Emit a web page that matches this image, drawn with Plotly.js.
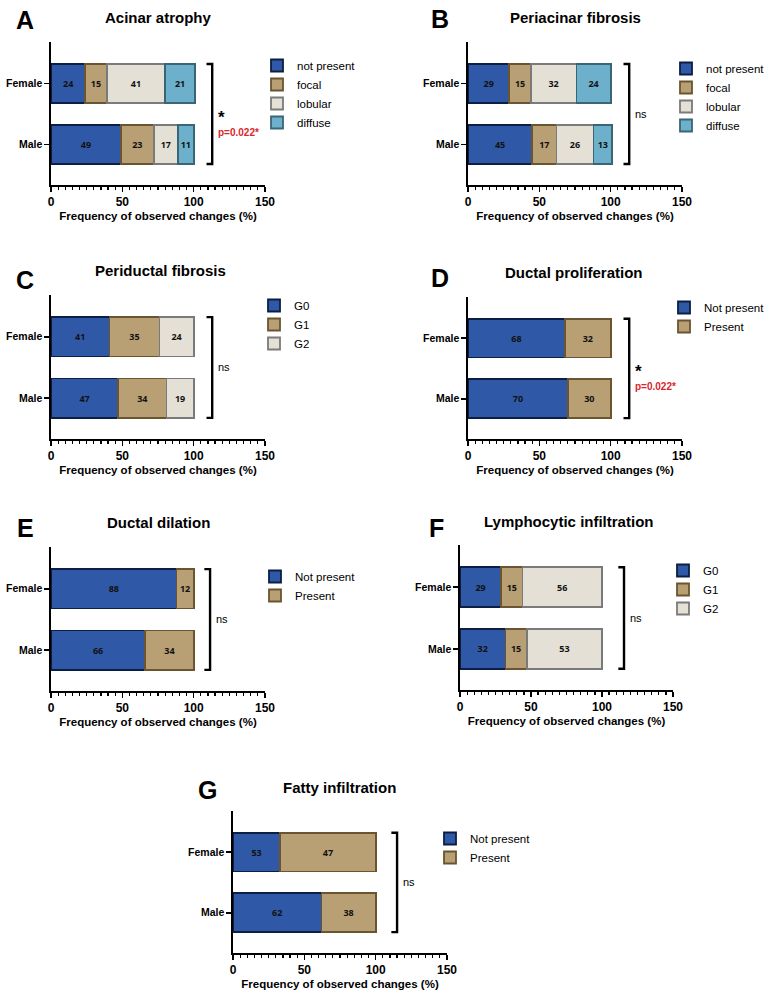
<!DOCTYPE html>
<html>
<head>
<meta charset="utf-8">
<script src="https://cdn.plot.ly/plotly-3.0.1.min.js"></script>
<style>html,body{margin:0;padding:0;background:#fff;}#chart{width:777px;height:995px;}</style>
</head>
<body>
<div id="chart"></div>
<script>
// ---------------- DATA ----------------
const categories = ['Male', 'Female'];
const xTickVals = [0, 50, 100, 150];
const xTitle = 'Frequency of observed changes (%)';

// A: Acinar atrophy
const acinarNotPresent = [49, 24];
const acinarFocal = [23, 15];
const acinarLobular = [17, 41];
const acinarDiffuse = [11, 21];
// B: Periacinar fibrosis
const periacinarNotPresent = [45, 29];
const periacinarFocal = [17, 15];
const periacinarLobular = [26, 32];
const periacinarDiffuse = [13, 24];
// C: Periductal fibrosis
const periductalG0 = [47, 41];
const periductalG1 = [34, 35];
const periductalG2 = [19, 24];
// D: Ductal proliferation
const prolifNotPresent = [70, 68];
const prolifPresent = [30, 32];
// E: Ductal dilation
const dilationNotPresent = [66, 88];
const dilationPresent = [34, 12];
// F: Lymphocytic infiltration
const lymphoG0 = [32, 29];
const lymphoG1 = [15, 15];
const lymphoG2 = [53, 56];
// G: Fatty infiltration (bar lengths as drawn; printed labels differ in the original figure)
const fattyNotPresent = [62, 33];
const fattyPresent = [38, 67];
const fattyNotPresentLabels = ['62', '53'];
const fattyPresentLabels = ['38', '47'];

// ---------------- STYLE ----------------
const COL = {
  blue:  {fill: '#2F59A7', line: '#0C1E44'},
  tan:   {fill: '#B89F74', line: '#6A5530'},
  light: {fill: '#E4E0D6', line: '#7A7A7A'},
  teal:  {fill: '#6CB0CB', line: '#3A6575'}
};
const FONT = 'Liberation Sans, Arial, sans-serif';
const W = 777, H = 995;

const panels = [
  {letter: 'A', title: 'Acinar atrophy', L: 51, R: 265, T: 42, B: 185, titleX: 158, titleY: 17, letterX: 25, letterY: 20,
   legX: 297, legY: 65, brX: 113, sig: 'star',
   series: [['not present', acinarNotPresent, 'blue'], ['focal', acinarFocal, 'tan'], ['lobular', acinarLobular, 'light'], ['diffuse', acinarDiffuse, 'teal']]},
  {letter: 'B', title: 'Periacinar fibrosis', L: 468, R: 682, T: 42, B: 185, titleX: 575, titleY: 17, letterX: 440, letterY: 19,
   legX: 706, legY: 68, brX: 113, sig: 'ns',
   series: [['not present', periacinarNotPresent, 'blue'], ['focal', periacinarFocal, 'tan'], ['lobular', periacinarLobular, 'light'], ['diffuse', periacinarDiffuse, 'teal']]},
  {letter: 'C', title: 'Periductal fibrosis', L: 51, R: 265, T: 295, B: 439, titleX: 160, titleY: 270, letterX: 25, letterY: 280,
   legX: 294, legY: 305, brX: 113, sig: 'ns',
   series: [['G0', periductalG0, 'blue'], ['G1', periductalG1, 'tan'], ['G2', periductalG2, 'light']]},
  {letter: 'D', title: 'Ductal proliferation', L: 468, R: 682, T: 297, B: 439, titleX: 574, titleY: 273, letterX: 440, letterY: 278,
   legX: 704, legY: 307, brX: 113, sig: 'star',
   series: [['Not present', prolifNotPresent, 'blue'], ['Present', prolifPresent, 'tan']]},
  {letter: 'E', title: 'Ductal dilation', L: 51, R: 265, T: 547, B: 691, titleX: 158, titleY: 522, letterX: 25, letterY: 528,
   legX: 295, legY: 576, brX: 111.5, sig: 'ns',
   series: [['Not present', dilationNotPresent, 'blue'], ['Present', dilationPresent, 'tan']]},
  {letter: 'F', title: 'Lymphocytic infiltration', L: 460, R: 673, T: 545, B: 690, titleX: 568, titleY: 521, letterX: 437, letterY: 528,
   legX: 703, legY: 570, brX: 115.5, sig: 'ns',
   series: [['G0', lymphoG0, 'blue'], ['G1', lymphoG1, 'tan'], ['G2', lymphoG2, 'light']]},
  {letter: 'G', title: 'Fatty infiltration', L: 233, R: 447, T: 811, B: 953, titleX: 339, titleY: 787, letterX: 207, letterY: 790,
   legX: 470, legY: 838, brX: 115, sig: 'ns',
   series: [['Not present', fattyNotPresent, 'blue', fattyNotPresentLabels], ['Present', fattyPresent, 'tan', fattyPresentLabels]]}
];

const Y_RANGE = [-0.664, 1.68];
const BAR_W = 0.64;

const data = [];
const layout = {
  width: W, height: H,
  margin: {l: 0, r: 0, t: 0, b: 0},
  paper_bgcolor: '#ffffff', plot_bgcolor: 'rgba(0,0,0,0)',
  barmode: 'stack',
  showlegend: true,
  font: {family: FONT, color: '#000'},
  uniformtext: {mode: 'show', minsize: 9},
  annotations: [], shapes: []
};

panels.forEach((p, i) => {
  const n = i + 1;
  const xa = n === 1 ? 'x' : 'x' + n;
  const ya = n === 1 ? 'y' : 'y' + n;
  const legName = n === 1 ? 'legend' : 'legend' + n;

  p.series.forEach(([name, vals, ck, labels]) => {
    data.push({
      type: 'bar', orientation: 'h',
      x: vals, y: categories,
      xaxis: xa, yaxis: ya,
      name: name, legend: legName,
      width: BAR_W,
      marker: {color: COL[ck].fill, line: {color: COL[ck].line, width: 1.8}},
      text: (labels || vals).map(String),
      textposition: 'inside', insidetextanchor: 'middle',
      textangle: 0,
      textfont: {family: 'Noto Sans, DejaVu Sans, sans-serif', size: 9, color: '#111', weight: 700},
      hoverinfo: 'skip'
    });
  });

  layout['xaxis' + (n === 1 ? '' : n)] = {
    domain: [p.L / W, p.R / W], anchor: ya,
    range: [0, 150], tickvals: xTickVals, ticktext: xTickVals.map(String),
    showline: true, linecolor: '#000', linewidth: 1.6,
    ticks: 'outside', ticklen: 5, tickwidth: 1.6, tickcolor: '#000',
    minor: {dtick: 5, tick0: 0, ticks: 'outside', ticklen: 3, tickwidth: 1.2, tickcolor: '#000', showgrid: false},
    showgrid: false, zeroline: false, fixedrange: true,
    tickfont: {family: FONT, size: 12, weight: 'bold', color: '#000'},
    title: {text: xTitle, font: {family: FONT, size: 11.5, weight: 'bold', color: '#000'}, standoff: 4}
  };
  layout['yaxis' + (n === 1 ? '' : n)] = {
    domain: [1 - p.B / H, 1 - p.T / H], anchor: xa,
    type: 'category', categoryorder: 'array', categoryarray: categories,
    range: Y_RANGE,
    showline: true, linecolor: '#000', linewidth: 1.6,
    ticks: 'outside', ticklen: 5, tickwidth: 1.6, tickcolor: '#000',
    showgrid: false, zeroline: false, fixedrange: true,
    tickfont: {family: FONT, size: 10.5, weight: 'bold', color: '#000'}
  };

  layout[legName] = {
    x: (p.legX - 40) / W, y: 1 - (p.legY - 14) / H,
    xanchor: 'left', yanchor: 'top',
    bgcolor: 'rgba(0,0,0,0)', borderwidth: 0,
    traceorder: 'normal',
    font: {family: FONT, size: 11.5, color: '#000'}
  };

  // titles and letters
  layout.annotations.push({
    xref: 'paper', yref: 'paper', x: p.titleX / W, y: 1 - p.titleY / H,
    xanchor: 'center', yanchor: 'middle', showarrow: false,
    text: p.title, font: {family: FONT, size: 15, weight: 'bold', color: '#000'}
  });
  layout.annotations.push({
    xref: 'paper', yref: 'paper', x: p.letterX / W, y: 1 - p.letterY / H,
    xanchor: 'center', yanchor: 'middle', showarrow: false,
    text: p.letter, font: {family: FONT, size: 25, weight: 'bold', color: '#000'}
  });

  // significance bracket
  const top = 1 + BAR_W / 2, bot = -BAR_W / 2;
  layout.shapes.push({
    type: 'path', xref: xa, yref: ya,
    path: `M${p.brX - 4},${top} L${p.brX},${top} L${p.brX},${bot} L${p.brX - 4},${bot}`,
    line: {color: '#000', width: 2.4}
  });
  if (p.sig === 'ns') {
    layout.annotations.push({
      xref: xa, yref: ya, x: p.brX + 2.5, y: 0.5, xanchor: 'left', yanchor: 'middle',
      showarrow: false, text: 'ns', font: {family: FONT, size: 11, color: '#000'}
    });
  } else {
    layout.annotations.push({
      xref: xa, yref: ya, x: p.brX + 3, y: 0.36, xanchor: 'left', yanchor: 'middle',
      showarrow: false, align: 'left',
      text: '<span style="font-size:17px">*</span><br><span style="color:#D9262C;font-size:10px">p=0.022*</span>',
      font: {family: FONT, size: 10, weight: 'bold', color: '#000'}
    });
  }
});

Plotly.newPlot('chart', data, layout, {displayModeBar: false, staticPlot: true});
</script>
</body>
</html>
